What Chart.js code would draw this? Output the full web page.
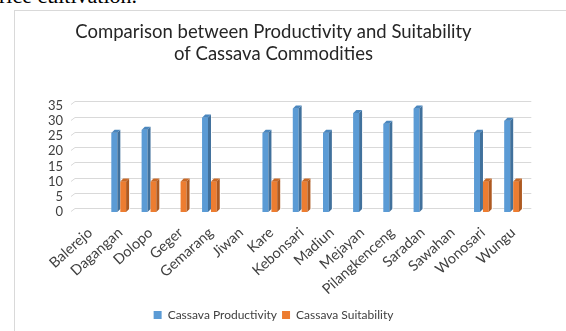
<!DOCTYPE html>
<html>
<head>
<meta charset="utf-8">
<script src="https://cdn.jsdelivr.net/npm/chart.js@4.4.0/dist/chart.umd.min.js"></script>
<style>
  html, body { margin: 0; padding: 0; background: #fff; overflow: hidden; }
  body { width: 566px; height: 331px; position: relative; }
  #docText { position: absolute; left: -1px; top: -17px; font: 22px "Liberation Serif", serif; color: #000; white-space: nowrap; }
  #frame { position: absolute; left: 14px; top: 10px; width: 700px; height: 400px; border-left: 1px solid #d9d9d9; border-top: 1px solid #d9d9d9; }
  #box { position: absolute; left: 0; top: 0; width: 522px; height: 320px; }
</style>
</head>
<body>
<div id="docText">rice cultivation.</div>
<div id="frame"><div id="box"><canvas id="chart"></canvas></div></div>
<script>
// ================= DATA =================
const districts = ["Balerejo", "Dagangan", "Dolopo", "Geger", "Gemarang", "Jiwan", "Kare",
  "Kebonsari", "Madiun", "Mejayan", "Pilangkenceng", "Saradan", "Sawahan", "Wonosari", "Wungu"];
const productivity = [0, 26, 27, 0, 31, 0, 26, 34, 26, 32.5, 29, 34, 0, 26, 30];
const suitability = [0, 10, 10, 10, 10, 0, 10, 10, 0, 0, 0, 0, 0, 10, 10];
const yTicks = [0, 5, 10, 15, 20, 25, 30, 35];

const FONT = "Lato";
const DEPTH = 3;

// ================= 3D LOOK =================
const backGrid = {
  id: "backGrid",
  beforeDatasetsDraw(chart) {
    const { ctx, chartArea, scales } = chart;
    ctx.save();
    ctx.strokeStyle = "#d9d9d9";
    ctx.lineWidth = 1;
    yTicks.forEach(v => {
      const y = Math.round(scales.y.getPixelForValue(v)) - DEPTH - 0.5;
      ctx.beginPath();
      ctx.moveTo(chartArea.left - 4, y + DEPTH);
      ctx.lineTo(chartArea.left, y);
      ctx.lineTo(chartArea.right + 3, y);
      ctx.stroke();
    });
    ctx.restore();
  }
};

const barFaces = {
  id: "barFaces",
  afterDatasetsDraw(chart) {
    const { ctx } = chart;
    const sides = ["#41719c", "#ae5a21"];
    const tops = ["#4a86bd", "#c96a28"];
    ctx.save();
    [0, 1].forEach(di => {
      const meta = chart.getDatasetMeta(di);
      const front = chart.data.datasets[di].backgroundColor;
      meta.data.forEach((el, i) => {
        if (!chart.data.datasets[di].data[i]) return;
        const { x, y, base, width } = el.getProps(["x", "y", "base", "width"], true);
        const l = x - width / 2, r = x + width / 2 - DEPTH;
        ctx.fillStyle = front;
        ctx.fillRect(l, y, r - l, base - y);
        ctx.fillStyle = "#fff";
        ctx.fillRect(r, y, DEPTH + 1, base - y + 1);
        ctx.fillStyle = sides[di];
        ctx.beginPath();
        ctx.moveTo(r, y); ctx.lineTo(r + DEPTH, y - DEPTH);
        ctx.lineTo(r + DEPTH, base - DEPTH); ctx.lineTo(r, base);
        ctx.closePath(); ctx.fill();
        ctx.fillStyle = tops[di];
        ctx.beginPath();
        ctx.moveTo(l, y); ctx.lineTo(l + DEPTH, y - DEPTH);
        ctx.lineTo(r + DEPTH, y - DEPTH); ctx.lineTo(r, y);
        ctx.closePath(); ctx.fill();
      });
    });
    ctx.restore();
  }
};

// ================= CHART =================
new Chart(document.getElementById("chart"), {
  type: "bar",
  data: {
    labels: districts,
    datasets: [
      { label: "Cassava Productivity", data: productivity, backgroundColor: "#5b9bd5",
        categoryPercentage: 0.58, barPercentage: 1.0 },
      { label: "Cassava Suitability", data: suitability, backgroundColor: "#ed7d31",
        categoryPercentage: 0.58, barPercentage: 1.0 }
    ]
  },
  options: {
    responsive: true,
    maintainAspectRatio: false,
    animation: false,
    layout: { padding: { left: 0, right: 5, top: 10, bottom: 0 } },
    plugins: {
      title: {
        display: true,
        text: ["Comparison between Productivity and Suitability", "of Cassava Commodities"],
        color: "#262626",
        font: { family: FONT, size: 18.5, weight: "normal", lineHeight: 1.2 },
        padding: { top: 0, bottom: 40 }
      },
      legend: {
        position: "bottom",
        labels: {
          color: "#404040",
          font: { family: FONT, size: 12 },
          boxWidth: 8, boxHeight: 8, padding: 5
        }
      },
      tooltip: { enabled: false }
    },
    scales: {
      x: {
        grid: { display: false, drawTicks: false },
        border: { display: false },
        afterFit: s => { s.height = 92; },
        ticks: {
          color: "#404040", font: { family: FONT, size: 14.5 },
          minRotation: 42, maxRotation: 42, autoSkip: false, padding: 12
        }
      },
      y: {
        min: 0, max: 35,
        grid: { display: false, drawTicks: false },
        border: { display: false },
        afterFit: s => { s.width = 60; },
        ticks: {
          stepSize: 5, autoSkip: false, color: "#404040", font: { family: FONT, size: 13 }, padding: 12
        }
      }
    }
  },
  plugins: [backGrid, barFaces]
});
</script>
</body>
</html>
